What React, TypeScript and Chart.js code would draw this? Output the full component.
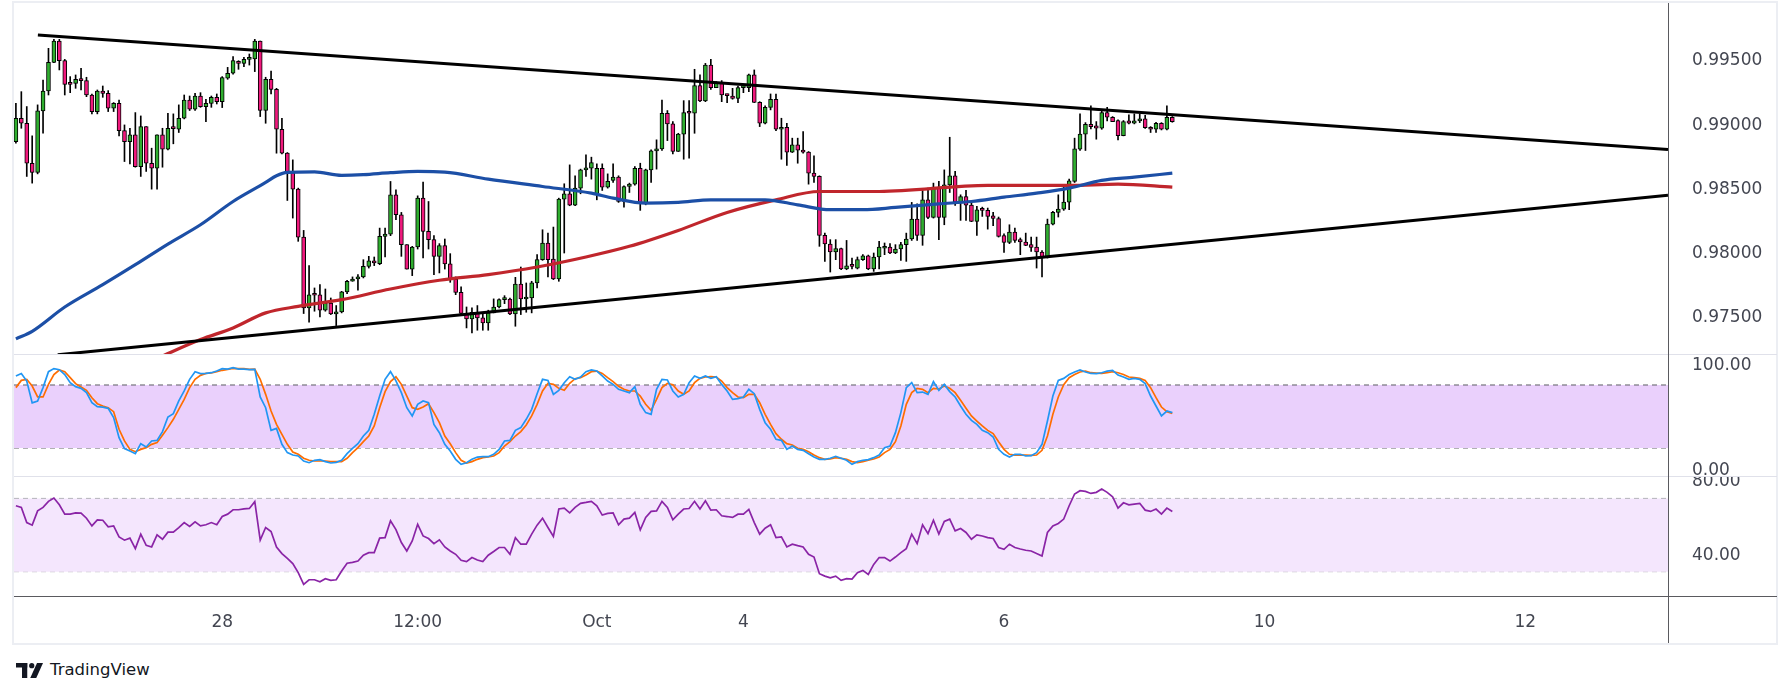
import React, { useEffect, useRef } from "react";
import { Chart, registerables } from "chart.js";

Chart.register(...registerables);

// ---------- DATA ----------
const openP = [
  0.98857,0.99039,0.99000,0.98689,0.98617,0.99096,0.99251,0.99474,0.99640,0.99487,
  0.99311,0.99311,0.99342,0.99332,0.99220,0.99091,0.99251,0.99233,0.99117,0.99155,
  0.98943,0.98857,0.98909,0.98663,0.98974,0.98689,0.98650,0.98909,0.98798,0.98961,
  0.98953,0.99039,0.99181,0.99109,0.99212,0.99130,0.99155,0.99202,0.99168,0.99350,
  0.99389,0.99482,0.99466,0.99497,0.99500,0.99640,0.99099,0.99342,0.99264,0.98953,
  0.98767,0.98617,0.98487,0.98114,0.97563,0.97664,0.97664,0.97545,0.97601,0.97516,
  0.97532,0.97687,0.97770,0.97788,0.97804,0.97886,0.97930,0.97907,0.98119,0.98137,
  0.98443,0.98288,0.98055,0.97865,0.98037,0.98417,0.98158,0.98094,0.97964,0.98047,
  0.97905,0.97788,0.97684,0.97519,0.97477,0.97529,0.97485,0.97446,0.97524,0.97570,
  0.97627,0.97632,0.97516,0.97749,0.97632,0.97640,0.97757,0.97938,0.98068,0.97943,
  0.97788,0.98410,0.98451,0.98363,0.98495,0.98637,0.98650,0.98443,0.98650,0.98503,
  0.98555,0.98581,0.98391,0.98508,0.98526,0.98650,0.98378,0.98637,0.98785,0.98801,
  0.99078,0.98995,0.98780,0.98915,0.99083,0.99078,0.99293,0.99174,0.99453,0.99277,
  0.99316,0.99220,0.99212,0.99194,0.99277,0.99277,0.99376,0.99163,0.99000,0.99124,
  0.99187,0.98953,0.98969,0.98775,0.98832,0.98790,0.98775,0.98612,0.98586,0.98127,
  0.98060,0.97998,0.98024,0.97866,0.97891,0.97873,0.97938,0.97969,0.97866,0.97959,
  0.98027,0.98037,0.97990,0.98021,0.98055,0.98099,0.98254,0.98127,0.98404,0.98267,
  0.98503,0.98267,0.98521,0.98591,0.98386,0.98430,0.98363,0.98236,0.98327,0.98322,
  0.98280,0.98259,0.98125,0.98073,0.98153,0.98094,0.98076,0.98055,0.98037,0.97998,
  0.97956,0.98215,0.98306,0.98332,0.98386,0.98547,0.98798,0.98915,0.98992,0.98979,
  0.98961,0.99083,0.99047,0.99021,0.98904,0.99018,0.99000,0.99018,0.99034,0.98969,
  0.98953,0.99000,0.98953,0.99047,
];
const highP = [
  0.99155,0.99246,0.99130,0.98902,0.99143,0.99337,0.99583,0.99653,0.99653,0.99497,
  0.99363,0.99376,0.99427,0.99358,0.99228,0.99259,0.99290,0.99254,0.99161,0.99181,
  0.98987,0.98961,0.99083,0.99057,0.98974,0.98806,0.98909,0.98961,0.99078,0.99073,
  0.99143,0.99220,0.99212,0.99233,0.99238,0.99187,0.99212,0.99228,0.99363,0.99435,
  0.99518,0.99487,0.99513,0.99539,0.99653,0.99640,0.99358,0.99407,0.99272,0.99039,
  0.98772,0.98715,0.98495,0.98166,0.97892,0.97718,0.97744,0.97710,0.97640,0.97581,
  0.97692,0.97778,0.97804,0.97822,0.97938,0.97964,0.97959,0.98184,0.98184,0.98547,
  0.98482,0.98306,0.98055,0.98042,0.98435,0.98542,0.98391,0.98125,0.98063,0.98099,
  0.97985,0.97804,0.97726,0.97570,0.97563,0.97581,0.97524,0.97545,0.97633,0.97633,
  0.97658,0.97640,0.97801,0.97881,0.97757,0.97770,0.97977,0.98171,0.98145,0.98192,
  0.98417,0.98529,0.98676,0.98591,0.98643,0.98754,0.98736,0.98684,0.98684,0.98606,
  0.98684,0.98591,0.98513,0.98534,0.98663,0.98689,0.98643,0.98793,0.98871,0.99181,
  0.99099,0.99013,0.98922,0.99176,0.99176,0.99420,0.99376,0.99466,0.99497,0.99324,
  0.99332,0.99228,0.99272,0.99290,0.99298,0.99383,0.99415,0.99168,0.99135,0.99228,
  0.99228,0.99039,0.99000,0.98884,0.98884,0.98935,0.98780,0.98746,0.98591,0.98145,
  0.98094,0.98094,0.98029,0.98088,0.97951,0.97959,0.97977,0.97974,0.97990,0.98081,
  0.98068,0.98063,0.98055,0.98073,0.98145,0.98384,0.98373,0.98477,0.98495,0.98534,
  0.98547,0.98637,0.98891,0.98625,0.98443,0.98477,0.98391,0.98353,0.98347,0.98340,
  0.98306,0.98270,0.98140,0.98210,0.98184,0.98107,0.98145,0.98114,0.98114,0.98008,
  0.98254,0.98314,0.98443,0.98503,0.98565,0.98884,0.99073,0.99005,0.99135,0.99013,
  0.99099,0.99124,0.99052,0.99026,0.99021,0.99065,0.99073,0.99073,0.99062,0.98974,
  0.99008,0.99005,0.99135,0.99052,
];
const lowP = [
  0.98845,0.98961,0.98586,0.98534,0.98606,0.98922,0.99220,0.99471,0.99415,0.99220,
  0.99238,0.99272,0.99259,0.99207,0.99073,0.99073,0.99202,0.99091,0.99091,0.98902,
  0.98702,0.98684,0.98658,0.98586,0.98625,0.98487,0.98487,0.98658,0.98793,0.98840,
  0.98928,0.99034,0.99099,0.99099,0.99124,0.99013,0.99124,0.99150,0.99122,0.99342,
  0.99383,0.99420,0.99440,0.99453,0.99402,0.99052,0.99000,0.99228,0.98767,0.98762,
  0.98399,0.98262,0.98081,0.97519,0.97451,0.97537,0.97493,0.97537,0.97511,0.97425,
  0.97524,0.97674,0.97770,0.97700,0.97796,0.97873,0.97892,0.97899,0.97959,0.98125,
  0.98249,0.97964,0.97865,0.97814,0.98021,0.97951,0.98021,0.97822,0.97835,0.97865,
  0.97762,0.97666,0.97503,0.97407,0.97368,0.97389,0.97389,0.97389,0.97524,0.97563,
  0.97596,0.97511,0.97420,0.97511,0.97529,0.97524,0.97718,0.97933,0.97804,0.97783,
  0.97770,0.97990,0.98358,0.98358,0.98451,0.98586,0.98565,0.98404,0.98477,0.98495,
  0.98539,0.98384,0.98347,0.98461,0.98518,0.98322,0.98365,0.98539,0.98643,0.98788,
  0.98865,0.98762,0.98780,0.98720,0.98728,0.98922,0.99168,0.99168,0.99264,0.99277,
  0.99168,0.99161,0.99187,0.99161,0.99238,0.99246,0.99161,0.98974,0.98995,0.99104,
  0.98943,0.98720,0.98671,0.98772,0.98689,0.98767,0.98526,0.98539,0.98042,0.97925,
  0.97842,0.97938,0.97860,0.97860,0.97866,0.97866,0.97933,0.97860,0.97847,0.97866,
  0.97977,0.97985,0.97985,0.97933,0.97925,0.98088,0.98088,0.98050,0.98257,0.98262,
  0.98094,0.98210,0.98461,0.98360,0.98244,0.98244,0.98234,0.98127,0.98275,0.98176,
  0.98202,0.98114,0.97995,0.98063,0.98073,0.97977,0.98047,0.98003,0.97873,0.97804,
  0.97951,0.98208,0.98270,0.98322,0.98327,0.98539,0.98788,0.98788,0.98956,0.98876,
  0.98953,0.99018,0.99013,0.98871,0.98902,0.98995,0.98995,0.99005,0.98959,0.98928,
  0.98928,0.98948,0.98948,0.99008,
];
const closeP = [
  0.99039,0.99000,0.98689,0.98617,0.99096,0.99251,0.99474,0.99640,0.99487,0.99303,
  0.99303,0.99342,0.99332,0.99220,0.99091,0.99251,0.99233,0.99117,0.99155,0.98943,
  0.98857,0.98909,0.98663,0.98974,0.98689,0.98650,0.98909,0.98798,0.98961,0.98958,
  0.99039,0.99181,0.99109,0.99212,0.99130,0.99155,0.99202,0.99168,0.99355,0.99389,
  0.99487,0.99466,0.99497,0.99500,0.99640,0.99099,0.99342,0.99264,0.98953,0.98767,
  0.98617,0.98487,0.98114,0.97563,0.97664,0.97661,0.97545,0.97601,0.97516,0.97532,
  0.97687,0.97770,0.97788,0.97804,0.97886,0.97930,0.97912,0.98119,0.98137,0.98443,
  0.98288,0.98055,0.97865,0.98037,0.98417,0.98158,0.98094,0.97964,0.98047,0.97905,
  0.97788,0.97684,0.97519,0.97477,0.97529,0.97485,0.97446,0.97524,0.97570,0.97627,
  0.97632,0.97516,0.97749,0.97632,0.97640,0.97757,0.97938,0.98068,0.97938,0.97788,
  0.98410,0.98451,0.98363,0.98495,0.98637,0.98653,0.98694,0.98650,0.98503,0.98547,
  0.98581,0.98391,0.98508,0.98526,0.98650,0.98378,0.98637,0.98785,0.98801,0.99078,
  0.98995,0.98780,0.98915,0.99083,0.99078,0.99293,0.99174,0.99453,0.99277,0.99316,
  0.99220,0.99215,0.99194,0.99277,0.99282,0.99376,0.99163,0.99000,0.99124,0.99187,
  0.98953,0.98969,0.98775,0.98832,0.98790,0.98775,0.98612,0.98586,0.98127,0.98060,
  0.97998,0.98024,0.97866,0.97891,0.97886,0.97938,0.97969,0.97866,0.97959,0.98037,
  0.98037,0.97990,0.98021,0.98055,0.98099,0.98254,0.98127,0.98404,0.98267,0.98503,
  0.98267,0.98521,0.98591,0.98386,0.98430,0.98363,0.98236,0.98327,0.98322,0.98275,
  0.98259,0.98119,0.98073,0.98153,0.98088,0.98076,0.98050,0.98034,0.97998,0.97956,
  0.98215,0.98306,0.98332,0.98386,0.98552,0.98801,0.98915,0.98992,0.98974,0.98961,
  0.99083,0.99047,0.99013,0.98904,0.99013,0.99000,0.99018,0.99034,0.98966,0.98953,
  0.99000,0.98953,0.99047,0.99013,
];

// moving averages (bar index, value)
const maBlueIdx = [0,3,9,16,22,28,34,40,46,48,50,55,60,64,69,74,79,87,97,106,110,116,122,128,138,144,150,156,162,170,176,182,188,194,200,206,213];
const maBlueVal = [0.97322,0.97381,0.97570,0.97744,0.97899,0.98060,0.98210,0.98391,0.98539,0.98591,0.98617,0.98622,0.98595,0.98600,0.98615,0.98625,0.98620,0.98565,0.98508,0.98456,0.98417,0.98378,0.98384,0.98404,0.98404,0.98365,0.98327,0.98327,0.98345,0.98373,0.98391,0.98425,0.98456,0.98495,0.98555,0.98580,0.98612];
const maRedIdx = [26,34,40,46,52,60,69,78,87,96,105,113,122,131,140,148,159,179,194,203,213];
const maRedVal = [0.97170,0.97316,0.97407,0.97524,0.97575,0.97627,0.97710,0.97778,0.97822,0.97881,0.97959,0.98042,0.98166,0.98306,0.98404,0.98469,0.98469,0.98516,0.98516,0.98526,0.98503];

// triangle trend lines (bar index, price)
const upperLineIdx = [4.05, 304.3];
const upperLineVal = [0.99687, 0.98795];
const lowerLineIdx = [7.7, 304.3];
const lowerLineVal = [0.97198, 0.98439];

const stochK = [
  88.6,91,83.8,63,64.8,77.5,92.7,95.6,94.6,90,
  82.2,78.4,76.8,72.7,63.2,59.4,59,57.8,48.9,29.8,
  19.4,17.1,14.6,24.1,21,26.7,27.3,35.6,49.5,52.7,
  64.8,74.3,85.4,92.7,90.8,91,91.7,93.3,95.6,95.2,
  96.5,95.2,95.2,94.6,94.9,68.6,58.4,36.8,38.7,23.5,
  15.6,13.3,12.4,7.6,6,8.3,8.9,7,5.7,6.3,
  8.3,14.6,19.7,24.1,31.4,36.8,52.1,69.5,85.4,92.7,
  84,72.7,58.4,50.5,61.6,64.8,63.2,42.5,34.6,23.5,
  17.1,9.2,4.4,6,9.2,11.4,11.7,11.7,14,18.7,
  26.7,27.3,36.8,39.4,47.3,56.8,71.7,85.4,84.4,71.1,
  74.9,82.2,87.9,85.4,87.6,92.7,94.3,93.3,88.6,83.8,
  80.6,75.9,74.3,72.7,78.4,61.6,53.7,52.1,75.9,85.4,
  84.8,74.3,68.6,71.1,82.2,88.6,86.3,88.6,86.3,87.9,
  80.6,74.3,66.3,67,68.6,75.9,71.7,56.8,44.1,37.8,
  28.3,27.3,18.7,21.9,18.7,17.8,14.6,11.4,9.2,9.2,
  10.2,12.1,10.2,8.3,4.4,7,8.3,8.9,10.8,13.3,
  20.3,21.9,34.6,53.7,77.5,82.2,72.7,73.3,71.1,83.2,
  74.9,80.6,73.7,68.6,60,52.1,46.3,42.5,36.8,34.6,
  30.5,18.7,14,11.4,14,14,12.4,12.7,15.6,23.5,
  45.7,69.5,84.4,86.3,90,92.4,94.3,92.4,91,90.8,
  91.7,93.3,94,89.5,87.6,85.4,86.3,85.4,81.3,69.5,
  60,50.5,55.2,53.7,
];
const stochD = [
  77.5,84.4,85.4,79,68.6,68.6,80.6,90,94.3,92.7,
  87,81.3,78.1,74.9,67.9,62.2,60,58.4,54.6,37.8,
  26.7,18.7,16.5,18.7,20.3,23.5,25.1,32.1,39.4,47.3,
  56.8,66.3,77.5,85.4,89.2,91,91.4,92.7,94,94.9,
  95.9,95.6,95.6,94.9,95.2,85.4,71.1,55.2,42.5,33,
  23.5,16.2,14,10.2,8.3,7.6,7.6,7.6,7,7,
  7,10.2,15.6,20.3,26,31.4,41,58.4,73.7,83.2,
  87.8,80.6,69.5,58.4,56.8,59,62.2,53.7,44.1,31.4,
  24.1,15.6,8.3,5.7,7,9.2,10.8,11.4,12.4,15.6,
  21.9,26,31.4,35.6,41.9,50.5,61.6,74.3,81.6,80.6,
  76.8,74.9,81.6,86,87,89.5,92.7,93.3,91,87,
  83.2,78.7,75.9,74.3,74.3,69.5,61.6,55.9,66.3,77.5,
  81.6,80.3,74.3,71.1,74.3,82.2,86.3,87.6,87.9,87.6,
  83.8,77.5,72.7,68.6,67.9,71.1,71.1,63.2,52.1,42.5,
  33.7,28.3,24.1,22.9,19.7,18.7,16.5,13.3,10.8,9.2,
  9.5,10.8,10.2,9.2,7,6,7,8.3,9.5,11.4,
  15.6,18.7,26,41,61.6,72.7,76.8,75.9,72.7,76.8,
  76.2,79,76.8,72.7,65.4,57.8,50.5,45.7,41,36.8,
  33.7,26,18.7,14,13.3,13.3,13.3,13,13.3,17.8,
  31.4,52.1,68.6,80.3,87,90,92.4,93.3,91.7,91.4,
  91,91.7,92.7,91.7,90,87.6,87,86.3,84.4,77.5,
  67.9,59,54.6,53,
];
const rsiV = [
  66,65.1,56.8,55.4,63.2,65.1,68.4,70.2,66.5,61.4,
  61.4,62.1,62,59.2,55,58.3,58.1,54.5,55,49,
  47.2,48.3,42.6,50.5,44.4,43.5,50.1,47.7,51.6,51.6,
  54.1,56.8,54.7,57.2,55,55.6,56.8,55.6,60.1,61.4,
  63.8,63.8,64.3,64.5,68.2,47.2,54.1,51.9,43.5,39.9,
  37.3,34.4,29.5,23.1,25.6,25.6,24.5,26.2,25.3,25.6,
  30.4,34.6,35.1,35.8,39,40.4,40.4,48.3,48.6,57.8,
  53,45.9,41.3,46.8,55.9,49.5,48.1,45.3,47.4,43.5,
  41.3,39.5,36.2,35.5,37.7,36.4,35.5,39,41,43.2,
  43.2,39.5,48.6,45,45,50.5,55.4,59.2,54.1,49.2,
  64.2,64.7,62.1,65.1,67.3,67.8,68.4,66,60.9,61.8,
  62.1,55.6,58.7,59.2,62.3,52.8,59.6,62.9,63.2,68.4,
  65.1,58.3,61.4,64.2,64.5,68.4,64.2,68.7,63.6,63.8,
  60.5,60.1,59.6,61.4,61.4,64,56.8,50.5,53.7,55.6,
  48.6,49,43.5,45,44.2,43.5,39.5,38,28.9,27.6,
  26.7,27.6,25.3,26.2,26,29.5,30.7,28.5,34,37.7,
  37.7,35.8,38,40.4,42.6,50.5,45.3,55.6,50.8,58.1,
  50.5,57.4,58.7,52.3,53.6,51.4,47.7,50.1,49.5,48.6,
  48.1,43.2,42.2,45,43.2,42.4,41.7,41.3,39.9,38.6,
  51.4,55,56.3,58.7,66,72.4,74.2,73.8,72.7,73.3,
  75.1,73.3,70.9,64.7,67.6,66.5,66.9,67.3,63.6,62.9,
  64.2,61.4,64.7,62.9,
];

const priceTicks = [0.975, 0.98, 0.985, 0.99, 0.995];
const stochTicks = [0, 100];
const rsiTicks = [40, 80];
const stochLevels = [80, 20];
const rsiLevels = [70, 30];
const timeTickIdx = [38, 74, 107, 134, 182, 230, 278];
const timeTickLabels = ["28", "12:00", "Oct", "4", "6", "10", "12"];

// ---------- LAYOUT / STYLE ----------
const X_MIN = -0.35;
const X_MAX = 304.3;
const PLOT_L = 14;
const CANVAS_W = 1762;
const AXIS_W = 108;
const FONT = "'DejaVu Sans', sans-serif";
const FONT_SIZE = 17;
const TEXT = "#434651";
const GREEN = "#2fae2f";
const PINK = "#f0197d";

function yAxis(min: number, max: number, ticks: number[], digits: number) {
  return {
    type: "linear",
    position: "right",
    min,
    max,
    grid: { display: false },
    border: { display: false },
    afterBuildTicks: (s: any) => {
      s.ticks = ticks.map((v) => ({ value: v }));
    },
    afterFit: (s: any) => {
      s.width = AXIS_W;
      s.paddingTop = 0;
      s.paddingBottom = 0;
    },
    ticks: {
      padding: 16,
      labelOffset: 2,
      color: TEXT,
      font: { family: FONT, size: FONT_SIZE },
      callback: (v: any) => Number(v).toFixed(digits),
    },
  };
}

function xHidden() {
  return { type: "linear", min: X_MIN, max: X_MAX, offset: false, display: false };
}

function levelData(v: number) {
  return [
    { x: X_MIN, y: v },
    { x: X_MAX, y: v },
  ];
}

const baseOptions = {
  animation: false,
  responsive: false,
  maintainAspectRatio: false,
  events: [],
  layout: { padding: 0 },
  plugins: { legend: { display: false }, tooltip: { enabled: false } },
};

function mainConfig(): any {
  const idx = closeP.map((_, i) => i);
  return {
    type: "bar",
    data: {
      datasets: [
        {
          type: "line",
          data: upperLineIdx.map((x, k) => ({ x, y: upperLineVal[k] })),
          borderColor: "#000",
          borderWidth: 3,
          pointRadius: 0,
        },
        {
          type: "line",
          data: lowerLineIdx.map((x, k) => ({ x, y: lowerLineVal[k] })),
          borderColor: "#000",
          borderWidth: 3,
          pointRadius: 0,
        },
        {
          type: "line",
          data: maBlueIdx.map((x, k) => ({ x, y: maBlueVal[k] })),
          borderColor: "#1c4fa6",
          borderWidth: 3.2,
          pointRadius: 0,
          cubicInterpolationMode: "monotone",
        },
        {
          type: "line",
          data: maRedIdx.map((x, k) => ({ x, y: maRedVal[k] })),
          borderColor: "#c0262c",
          borderWidth: 3.2,
          pointRadius: 0,
          cubicInterpolationMode: "monotone",
        },
        {
          type: "bar",
          data: idx.map((i) => ({ x: i, y: [openP[i], closeP[i]] })),
          backgroundColor: idx.map((i) => (closeP[i] >= openP[i] ? GREEN : PINK)),
          borderColor: "#000",
          borderWidth: 1,
          borderSkipped: false,
          barThickness: 4,
          minBarLength: 2,
          grouped: false,
        },
        {
          type: "bar",
          data: idx.map((i) => ({ x: i, y: [lowP[i], highP[i]] })),
          backgroundColor: "#000",
          borderWidth: 0,
          barThickness: 1,
          grouped: false,
        },
      ],
    },
    options: {
      ...baseOptions,
      scales: {
        x: xHidden(),
        y: yAxis(0.97204, 0.99936, priceTicks, 5),
      },
    },
  };
}

function stochConfig(): any {
  return {
    type: "line",
    data: {
      datasets: [
        {
          data: stochK.map((y, i) => ({ x: i, y })),
          borderColor: "#2196f3",
          borderWidth: 1.7,
          pointRadius: 0,
        },
        {
          data: stochD.map((y, i) => ({ x: i, y })),
          borderColor: "#ff6d00",
          borderWidth: 1.7,
          pointRadius: 0,
        },
        {
          data: levelData(stochLevels[0]),
          borderColor: "#5d5d63",
          borderWidth: 1,
          borderDash: [5, 4],
          pointRadius: 0,
          fill: "+1",
          backgroundColor: "#ead0fc",
        },
        {
          data: levelData(stochLevels[1]),
          borderColor: "#5d5d63",
          borderWidth: 1,
          borderDash: [5, 4],
          pointRadius: 0,
        },
      ],
    },
    options: {
      ...baseOptions,
      scales: {
        x: xHidden(),
        y: yAxis(-6.67, 108.57, stochTicks, 2),
      },
    },
  };
}

function rsiConfig(): any {
  return {
    type: "line",
    data: {
      datasets: [
        {
          data: rsiV.map((y, i) => ({ x: i, y })),
          borderColor: "#8a24a6",
          borderWidth: 1.7,
          pointRadius: 0,
        },
        {
          data: levelData(rsiLevels[0]),
          borderColor: "#b4b4bb",
          borderWidth: 1,
          borderDash: [5, 4],
          pointRadius: 0,
          fill: "+1",
          backgroundColor: "#f4e6fd",
        },
        {
          data: levelData(rsiLevels[1]),
          borderColor: "#b4b4bb",
          borderWidth: 1,
          borderDash: [5, 4],
          pointRadius: 0,
        },
      ],
    },
    options: {
      ...baseOptions,
      scales: {
        x: {
          type: "linear",
          position: "bottom",
          min: X_MIN,
          max: X_MAX,
          offset: false,
          grid: { display: false },
          border: { display: false },
          afterBuildTicks: (s: any) => {
            s.ticks = timeTickIdx.map((v) => ({ value: v }));
          },
          afterFit: (s: any) => {
            s.height = 46;
            s.paddingLeft = 0;
            s.paddingRight = 0;
          },
          ticks: {
            autoSkip: false,
            maxRotation: 0,
            padding: 7,
            color: TEXT,
            font: { family: FONT, size: FONT_SIZE },
            callback: (v: any) => {
              const k = timeTickIdx.indexOf(Number(v));
              return k >= 0 ? timeTickLabels[k] : "";
            },
          },
        },
        y: yAxis(16.2, 81.67, rsiTicks, 2),
      },
    },
  };
}

function Pane({ top, height, build }: { top: number; height: number; build: () => any }) {
  const ref = useRef<HTMLCanvasElement | null>(null);
  useEffect(() => {
    if (!ref.current) return;
    const chart = new Chart(ref.current, build());
    return () => chart.destroy();
  }, []);
  return (
    <canvas
      ref={ref}
      width={CANVAS_W}
      height={height}
      style={{ position: "absolute", left: PLOT_L, top, width: CANVAS_W, height, display: "block" }}
    />
  );
}

function Line({ l, t, w, h, c }: { l: number; t: number; w: number; h: number; c: string }) {
  return <div style={{ position: "absolute", left: l, top: t, width: w, height: h, background: c }} />;
}

export default function App() {
  return (
    <div
      style={{
        position: "absolute",
        left: 0,
        top: 0,
        width: 1791,
        height: 697,
        background: "#fff",
        overflow: "hidden",
        fontFamily: FONT,
      }}
    >
      <Pane top={3} height={351} build={mainConfig} />
      <Pane top={355} height={121} build={stochConfig} />
      <Pane top={477} height={166} build={rsiConfig} />
      {/* frame and pane separators */}
      <div
        style={{
          position: "absolute",
          left: 12,
          top: 1,
          width: 1766,
          height: 644,
          boxSizing: "border-box",
          border: "2px solid #eceef3",
        }}
      />
      <Line l={14} t={354} w={1763} h={1} c="#e0e1ea" />
      <Line l={14} t={476} w={1763} h={1} c="#e0e1ea" />
      <Line l={14} t={596} w={1763} h={1} c="#5a5a5f" />
      <Line l={1668} t={3} w={1} h={640} c="#5a5a5f" />
      {/* TradingView logo */}
      <svg
        style={{ position: "absolute", left: 16, top: 663 }}
        width={27}
        height={15}
        viewBox="0 0 36 20"
      >
        <rect x={0} y={0} width={15} height={6} fill="#131722" />
        <rect x={8} y={0} width={7} height={20} fill="#131722" />
        <circle cx={21} cy={3.5} r={3.5} fill="#131722" />
        <polygon points="28,0 36,0 27,20 19,20" fill="#131722" />
      </svg>
      <div
        style={{
          position: "absolute",
          left: 50,
          top: 659,
          fontSize: 16.5,
          lineHeight: "22px",
          color: "#131722",
          fontFamily: FONT,
        }}
      >
        TradingView
      </div>
    </div>
  );
}
